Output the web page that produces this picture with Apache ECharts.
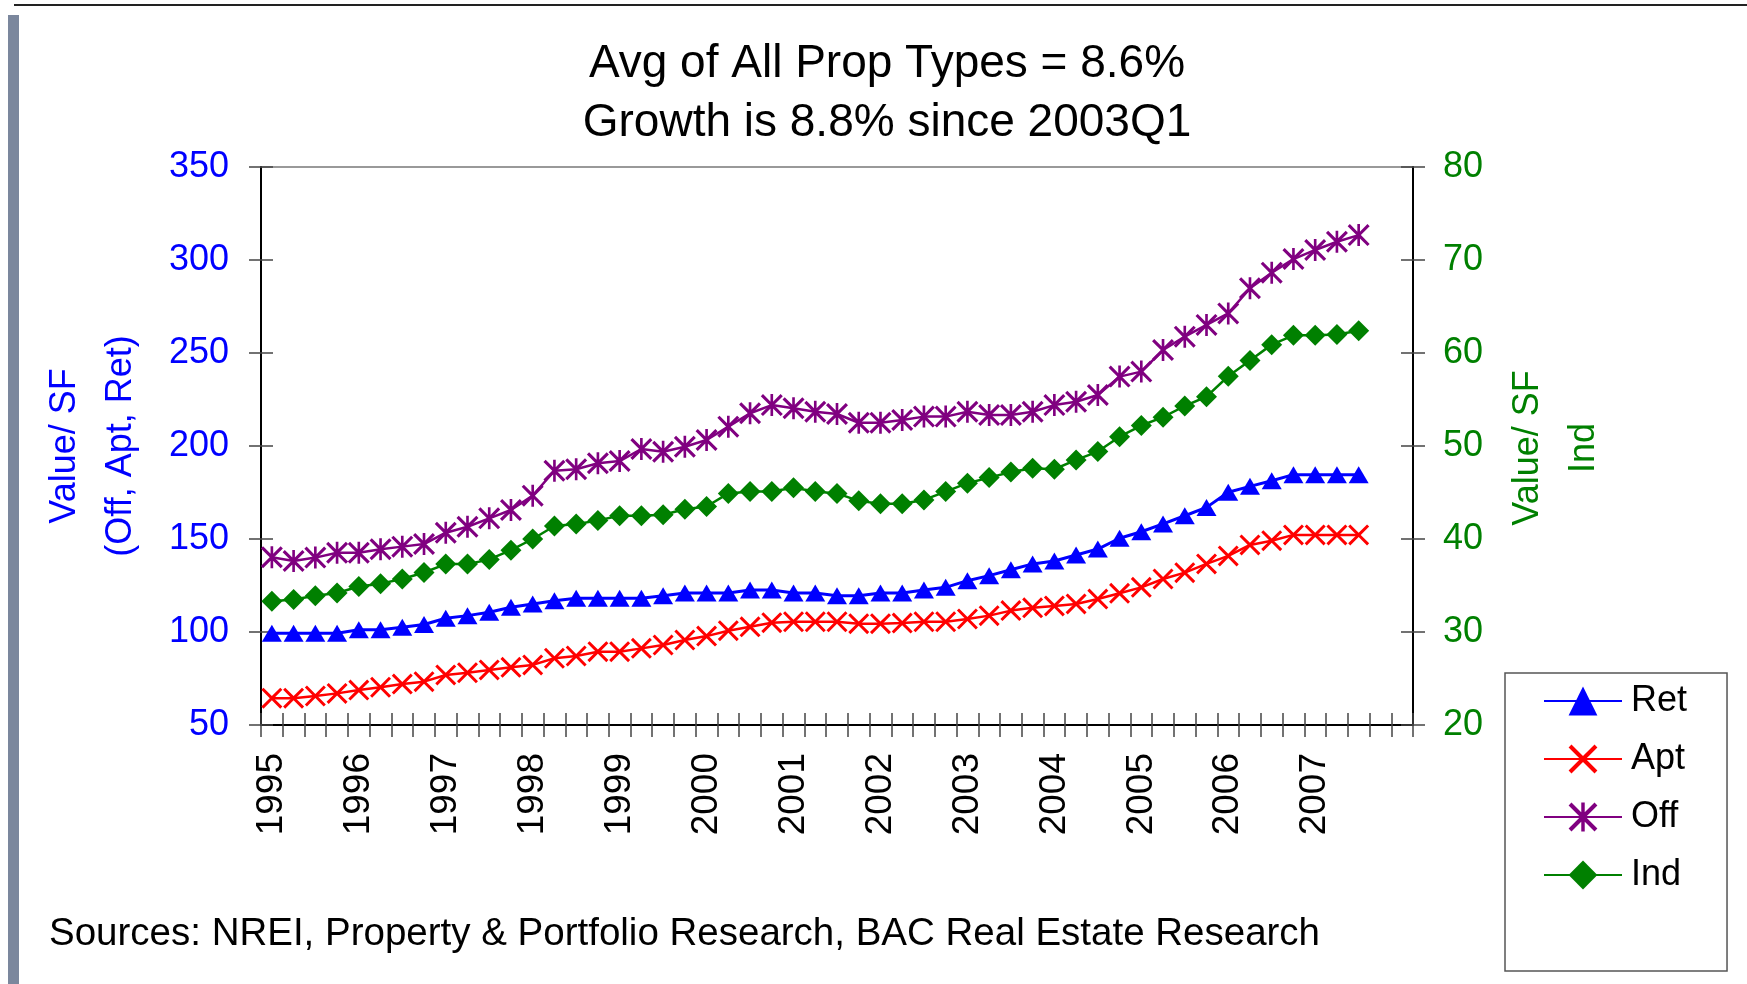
<!DOCTYPE html>
<html>
<head>
<meta charset="utf-8">
<title>Value per SF by property type</title>
<script src="https://cdn.jsdelivr.net/npm/echarts@6/dist/echarts.min.js"></script>
<style>
  html, body { margin: 0; padding: 0; background: #fff; }
  #main { width: 1747px; height: 984px; }
</style>
</head>
<body>
<div id="main"></div>
<script>
// quarters 1995Q1 .. 2008Q1 (data runs to 2007Q3)
var quarters = [];
for (var y = 1995; y <= 2008; y++) {
  for (var q = 1; q <= 4; q++) {
    if (y === 2008 && q > 1) break;
    quarters.push(y + 'Q' + q);
  }
}

var ret = [99.3,99.3,99.3,99.3,101.2,101.2,102.5,104,107.4,108.8,110.6,113.3,115,116.8,118.1,118.1,118.1,118.1,
  119.5,121,121,121,122.6,122.6,121,121,119.5,119.5,121,121,122.6,124,127.6,130.3,133.5,136.6,138.2,
  141.4,144.6,150.4,153.9,158.1,162.5,167,175.1,178.3,181.3,184.6,184.6,184.6,184.6];
var apt = [64.4,64.4,65.6,67.0,68.8,70.3,72.0,73.3,76.9,78.1,79.6,81.0,82.3,85.9,87.1,89.4,89.4,91.2,93,95.7,
  97.8,100.7,102.8,105,105.5,105.5,105.5,104.5,104.5,104.8,105.5,105.5,107,108.8,111.5,113,114,115.1,117.7,120.8,
  124,128.5,131.9,136.6,140.9,146.8,149.1,152.2,152.2,152.2,152.2];
var off = [140.2,138.2,140,142.6,142.6,144.5,145.9,147.3,153.4,156.6,161.1,165.6,173.3,186.7,187.5,190.7,191.9,198.4,196.9,199.6,
  203.2,210.4,217.6,222,220.3,218.4,217.2,212.5,212.5,214,215.8,215.8,218.4,216.7,216.7,218.4,222,223.8,227.4,237.3,
  240,251.6,258.8,265.1,271.3,284.8,293.2,300.5,305.4,309.8,313.4];
var ind = [33.3,33.5,33.9,34.2,34.9,35.2,35.7,36.4,37.3,37.3,37.8,38.8,40.0,41.4,41.6,42.0,42.5,42.5,42.6,43.2,
  43.5,44.9,45.1,45.1,45.5,45.1,44.9,44.1,43.8,43.8,44.2,45.1,46.0,46.6,47.2,47.6,47.5,48.5,49.4,51.0,
  52.2,53.1,54.3,55.3,57.5,59.2,60.9,61.9,61.9,62.0,62.4];

var titleLines = ['Avg of All Prop Types = 8.6%', 'Growth is 8.8% since 2003Q1'];
var sourceText = 'Sources: NREI, Property & Portfolio Research, BAC Real Estate Research';

var FONT = '"Liberation Sans", Arial, sans-serif';
// excel-like markers
var xMark = 'path://M1,0 L5,4 L9,0 L10,1 L6,5 L10,9 L9,10 L5,6 L1,10 L0,9 L4,5 L0,1 Z';
var starMark = 'path://M1,0 L5,4 L9,0 L10,1 L6,5 L10,9 L9,10 L5,6 L1,10 L0,9 L4,5 L0,1 Z M4.4,0 L5.6,0 L5.6,10 L4.4,10 Z';

var chart = echarts.init(document.getElementById('main'));

function yAx(pos, min, max, step, color, inside) {
  return {
    type: 'value', position: pos, min: min, max: max, interval: step,
    axisLine: { show: !inside, lineStyle: { color: '#000', width: 2 } },
    axisTick: { show: true, inside: inside, length: 12, lineStyle: { color: '#444', width: 1.5 } },
    axisLabel: { show: !inside, color: color, fontSize: 36, fontFamily: FONT, margin: pos === 'left' ? 32 : 30 },
    splitLine: { show: false }
  };
}

function xAx(inside) {
  return {
    type: 'category', position: 'bottom', data: quarters, boundaryGap: true,
    axisLine: { show: !inside, lineStyle: { color: '#000', width: 2 } },
    axisTick: { show: true, inside: inside, interval: 0, length: 12, lineStyle: { color: '#444', width: 1.5 } },
    axisLabel: {
      show: !inside, rotate: 90, margin: 28, color: '#000', fontSize: 37, fontFamily: FONT,
      // one label per year, none for the empty 2008 slot
      interval: function (i) { return i % 4 === 0 && i < 52; },
      formatter: function (v) { return v.slice(0, 4); }
    },
    splitLine: { show: false }
  };
}

function lineSeries(name, data, color, symbol, size, yIdx, width) {
  return {
    name: name, type: 'line', data: data, yAxisIndex: yIdx,
    symbol: symbol, symbolSize: size, showAllSymbol: true,
    itemStyle: { color: color },
    lineStyle: { color: color, width: width },
    emphasis: { disabled: true },
    animation: false
  };
}

var option = {
  backgroundColor: '#fff',
  animation: false,
  grid: {
    left: 261, right: 334, top: 167, bottom: 259,
    show: true, borderColor: '#999', borderWidth: 2, backgroundColor: '#fff'
  },
  xAxis: [xAx(false), xAx(true)],
  yAxis: [
    yAx('left', 50, 350, 50, '#0000ff', false),
    yAx('right', 20, 80, 10, '#008000', false),
    yAx('left', 50, 350, 50, '#0000ff', true),
    yAx('right', 20, 80, 10, '#008000', true)
  ],
  legend: {
    orient: 'vertical', left: 1505, top: 673,
    padding: [8, 40, 76, 38],
    itemWidth: 78, itemHeight: 36, itemGap: 18,
    borderColor: '#555', borderWidth: 1.5, backgroundColor: '#fff',
    textStyle: { color: '#000', fontSize: 36, fontFamily: FONT, lineHeight: 40, padding: [0, 0, 0, 4] },
    data: ['Ret', 'Apt', 'Off', 'Ind']
  },
  series: [
    lineSeries('Ret', ret, '#0000ff', 'triangle', [20, 17], 0, 3),
    lineSeries('Apt', apt, '#ff0000', xMark, 21, 0, 2.5),
    lineSeries('Off', off, '#800080', starMark, 22, 0, 2.5),
    lineSeries('Ind', ind, '#008000', 'diamond', 21, 1, 2.5)
  ],
  graphic: [
    { type: 'rect', left: 8, top: 15, shape: { width: 11, height: 969 }, style: { fill: '#7b879d' }, silent: true },
    { type: 'rect', left: 14, top: 4, shape: { width: 1733, height: 2 }, style: { fill: '#222' }, silent: true },
    {
      type: 'text', x: 887, y: 64,
      style: { text: titleLines[0], font: '46px ' + FONT, fill: '#000', textAlign: 'center', textVerticalAlign: 'middle' }
    },
    {
      type: 'text', x: 887, y: 123,
      style: { text: titleLines[1], font: '46px ' + FONT, fill: '#000', textAlign: 'center', textVerticalAlign: 'middle' }
    },
    {
      type: 'text', x: 93, y: 446, rotation: Math.PI / 2,
      style: { text: 'Value/ SF\n(Off, Apt, Ret)', font: '36px ' + FONT, lineHeight: 56, fill: '#0000ff', textAlign: 'center', textVerticalAlign: 'middle' }
    },
    {
      type: 'text', x: 1556, y: 448, rotation: Math.PI / 2,
      style: { text: 'Value/ SF\nInd', font: '36px ' + FONT, lineHeight: 56, fill: '#008000', textAlign: 'center', textVerticalAlign: 'middle' }
    },
    {
      type: 'text', x: 49, y: 934,
      style: { text: sourceText, font: '38.5px ' + FONT, fill: '#000', textAlign: 'left', textVerticalAlign: 'middle' }
    }
  ]
};

chart.setOption(option);
</script>
</body>
</html>
